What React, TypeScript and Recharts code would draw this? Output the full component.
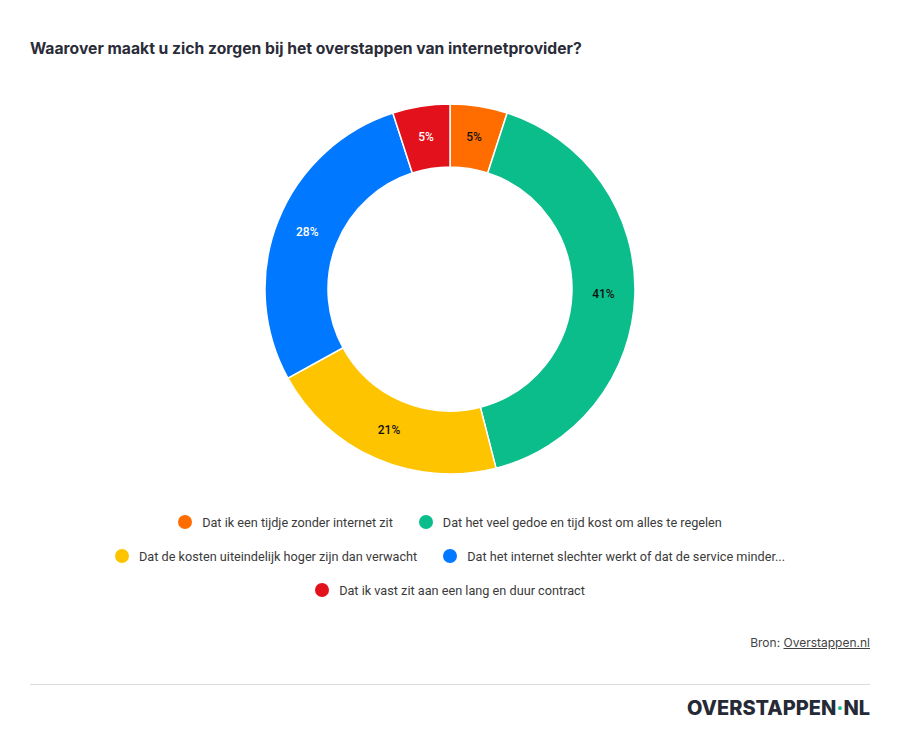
import React from 'react';
import { PieChart, Pie, Cell, Legend } from 'recharts';

const CATEGORIES = [
  'Dat ik een tijdje zonder internet zit',
  'Dat het veel gedoe en tijd kost om alles te regelen',
  'Dat de kosten uiteindelijk hoger zijn dan verwacht',
  'Dat het internet slechter werkt of dat de service minder...',
  'Dat ik vast zit aan een lang en duur contract',
];

const VALUES = [5, 41, 21, 28, 5];

const COLORS = ['#FF6D00', '#0BBD8A', '#FFC400', '#0078FF', '#E3111B'];
const LABEL_COLORS = ['#111111', '#111111', '#111111', '#ffffff', '#ffffff'];

const LEGEND_ROWS = [[0, 1], [2, 3], [4]];

const data = CATEGORIES.map((name, i) => ({ name, value: VALUES[i] }));

const RAD = Math.PI / 180;

const renderLabel = (props: any) => {
  const { cx, cy, midAngle, innerRadius, outerRadius, index, value } = props;
  const r = (innerRadius + outerRadius) / 2;
  const x = cx + r * Math.cos(-midAngle * RAD);
  const y = cy + r * Math.sin(-midAngle * RAD);
  return (
    <text
      x={x}
      y={y}
      fill={LABEL_COLORS[index]}
      textAnchor="middle"
      dominantBaseline="central"
      fontSize={12}
      fontWeight={500}
      fontFamily="Roboto, sans-serif"
    >
      {`${value}%`}
    </text>
  );
};

const renderLegend = () => (
  <div style={{ fontFamily: 'Roboto, sans-serif', fontSize: 12.7, color: '#3a3a3a' }}>
    {LEGEND_ROWS.map((row, ri) => (
      <div
        key={ri}
        style={{ display: 'flex', justifyContent: 'center', alignItems: 'center', height: 34 }}
      >
        {row.map((i) => (
          <div key={i} style={{ display: 'flex', alignItems: 'center', margin: '0 13px' }}>
            <span
              style={{
                width: 14,
                height: 14,
                borderRadius: 7,
                background: COLORS[i],
                display: 'inline-block',
                marginRight: 10,
              }}
            />
            <span>{CATEGORIES[i]}</span>
          </div>
        ))}
      </div>
    ))}
  </div>
);

export default function App() {
  return (
    <div
      style={{
        position: 'absolute',
        top: 0,
        left: 0,
        width: 900,
        height: 736,
        background: '#fff',
        fontFamily: 'Inter, sans-serif',
      }}
    >
      <div
        style={{
          position: 'absolute',
          top: 39,
          left: 30,
          fontSize: 15.7,
          fontWeight: 700,
          color: '#2a2c38',
          lineHeight: '20px',
        }}
      >
        Waarover maakt u zich zorgen bij het overstappen van internetprovider?
      </div>

      <div style={{ position: 'absolute', top: 0, left: 0 }}>
        <PieChart width={900} height={620} margin={{ top: 0, right: 0, bottom: 0, left: 0 }}>
          <Pie
            data={data}
            dataKey="value"
            nameKey="name"
            cx={450}
            cy={289}
            innerRadius={122}
            outerRadius={185}
            startAngle={90}
            endAngle={-270}
            stroke="#ffffff"
            strokeWidth={1.5}
            label={renderLabel}
            labelLine={false}
            isAnimationActive={false}
          >
            {data.map((_, i) => (
              <Cell key={`cell-${i}`} fill={COLORS[i]} />
            ))}
          </Pie>
          <Legend
            content={renderLegend}
            wrapperStyle={{ top: 505, left: 0, width: 900 }}
          />
        </PieChart>
      </div>

      <div
        style={{
          position: 'absolute',
          top: 635,
          right: 30,
          fontSize: 12,
          color: '#444',
        }}
      >
        Bron: <span style={{ textDecoration: 'underline' }}>Overstappen.nl</span>
      </div>

      <div
        style={{
          position: 'absolute',
          top: 684,
          left: 30,
          width: 840,
          height: 1,
          background: '#dcdcdc',
        }}
      />

      <div
        style={{
          position: 'absolute',
          top: 695,
          right: 30,
          fontSize: 20,
          fontWeight: 800,
          color: '#262a36',
          letterSpacing: 0,
          lineHeight: '26px',
        }}
      >
        OVERSTAPPEN<span style={{ color: '#0BBD8A' }}>·</span>NL
      </div>
    </div>
  );
}
